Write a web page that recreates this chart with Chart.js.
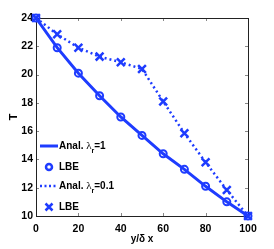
<!DOCTYPE html>
<html>
<head>
<meta charset="utf-8">
<script src="https://cdn.jsdelivr.net/npm/chart.js@4.4.0/dist/chart.umd.min.js"></script>
<style>
  html, body { margin: 0; padding: 0; background: #fff; }
  #wrap { width: 274px; height: 249px; }
</style>
</head>
<body>
<div id="wrap"><canvas id="cv"></canvas></div>
<script>
let xs = [0, 10, 20, 30, 40, 50, 60, 70, 80, 90, 100];
let analL1 = [24, 21.9, 20.1, 18.5, 17.0, 15.7, 14.4, 13.3, 12.1, 11.0, 10];
let lbeL1 = [24, 21.9, 20.1, 18.5, 17.0, 15.7, 14.4, 13.3, 12.1, 11.0, 10];
let analL01 = [24, 22.85, 21.9, 21.27, 20.87, 20.4, 18.1, 15.85, 13.8, 11.84, 10];
let lbeL01 = [24, 22.85, 21.9, 21.27, 20.87, 20.4, 18.1, 15.85, 13.8, 11.84, 10];
let xTicks = [0, 20, 40, 60, 80, 100];
let yTicks = [10, 12, 14, 16, 18, 20, 22, 24];

let azul = 'rgb(30, 60, 255)';
let fonte = 'Liberation Sans, Arial, sans-serif';

function pares(vals){
    return xs.map(function(x, i){ return {x: x, y: vals[i]}; });
}

// box + ticks para dentro, estilo matlab
let caixa = {
    id: 'caixa',
    beforeDatasetsDraw: function(chart){
        let c = chart.ctx;
        let a = chart.chartArea;
        let sx = chart.scales.x, sy = chart.scales.y;
        c.save();
        c.strokeStyle = '#888';
        c.lineWidth = 1;
        xTicks.forEach(function(t){
            let px = Math.round(sx.getPixelForValue(t)) + 0.5;
            c.beginPath();
            c.moveTo(px, a.bottom); c.lineTo(px, a.bottom - 3);
            c.moveTo(px, a.top); c.lineTo(px, a.top + 3);
            c.stroke();
        });
        yTicks.forEach(function(t){
            let py = Math.round(sy.getPixelForValue(t)) + 0.5;
            c.beginPath();
            c.moveTo(a.left, py); c.lineTo(a.left + 3, py);
            c.moveTo(a.right, py); c.lineTo(a.right - 3, py);
            c.stroke();
        });
        c.strokeStyle = '#222';
        c.strokeRect(Math.round(a.left) + 0.5, Math.round(a.top) + 0.5,
                     Math.round(a.right - a.left), Math.round(a.bottom - a.top));
        c.restore();
    },
    afterDraw: function(chart){
        let c = chart.ctx;
        c.save();
        // legenda
        let lx = 40, tx = 59;
        let linhas = [146, 167, 186, 207];
        c.strokeStyle = azul;
        c.fillStyle = azul;
        c.lineWidth = 3;
        c.beginPath(); c.moveTo(lx, linhas[0]); c.lineTo(58, linhas[0]); c.stroke();
        c.lineWidth = 2.5;
        c.beginPath(); c.arc(49, linhas[1], 3, 0, Math.PI * 2); c.stroke();
        c.setLineDash([2, 2.5]);
        c.beginPath(); c.moveTo(lx, linhas[2]); c.lineTo(58, linhas[2]); c.stroke();
        c.setLineDash([]);
        c.lineWidth = 2.5;
        c.beginPath();
        c.moveTo(45.5, linhas[3] - 3.5); c.lineTo(52.5, linhas[3] + 3.5);
        c.moveTo(52.5, linhas[3] - 3.5); c.lineTo(45.5, linhas[3] + 3.5);
        c.stroke();

        c.fillStyle = '#000';
        c.textBaseline = 'middle';
        c.textAlign = 'left';
        function anal(y, resto){
            let x = tx;
            c.font = 'bold 10px ' + fonte;
            c.fillText('Anal. ', x, y); x += c.measureText('Anal. ').width;
            c.font = '11px Liberation Serif, serif';
            c.fillText('λ', x, y); x += c.measureText('λ').width;
            c.font = 'bold 7px ' + fonte;
            c.fillText('r', x, y + 5); x += c.measureText('r').width;
            c.font = 'bold 10px ' + fonte;
            c.fillText(resto, x, y);
        }
        anal(linhas[0], '=1');
        c.font = 'bold 10px ' + fonte;
        c.fillText('LBE', tx, linhas[1]);
        anal(linhas[2], '=0.1');
        c.font = 'bold 10px ' + fonte;
        c.fillText('LBE', tx, linhas[3]);
        c.restore();
    }
};

let ctx1 = document.getElementById('cv').getContext('2d');

let myChart = new Chart(ctx1, {
    type: 'line',
    data: {
        datasets: [{
            label: 'Anal. λr=1',
            data: pares(analL1),
            borderColor: azul,
            borderWidth: 3,
            pointRadius: 0,
            tension: 0,
            clip: false
        }, {
            label: 'LBE',
            data: pares(lbeL1),
            showLine: false,
            borderColor: azul,
            backgroundColor: 'rgba(0,0,0,0)',
            pointStyle: 'circle',
            pointRadius: 3.5,
            pointBorderWidth: 2,
            clip: false
        }, {
            label: 'Anal. λr=0.1',
            data: pares(analL01),
            borderColor: azul,
            borderWidth: 2.5,
            borderDash: [2, 3],
            pointRadius: 0,
            tension: 0,
            clip: false
        }, {
            label: 'LBE',
            data: pares(lbeL01),
            showLine: false,
            borderColor: azul,
            pointStyle: 'crossRot',
            pointRadius: 5.5,
            pointBorderWidth: 2.5,
            clip: false
        }]
    },
    options: {
        responsive: true,
        maintainAspectRatio: false,
        animation: false,
        layout: { padding: { top: 18, right: 26, left: 0, bottom: 0 } },
        plugins: { legend: { display: false }, tooltip: { enabled: false } },
        scales: {
            x: {
                type: 'linear',
                min: 0, max: 100,
                afterBuildTicks: function(s){ s.ticks = xTicks.map(function(v){ return {value: v}; }); },
                afterFit: function(s){ s.height = 33; },
                grid: { display: false, drawTicks: false },
                border: { display: false },
                ticks: { color: '#000', padding: 7, maxRotation: 0, font: { family: fonte, size: 10.5, weight: 'bold' } },
                title: { display: true, text: 'y/δ x', color: '#000', padding: { top: 0 }, font: { family: fonte, size: 10, weight: 'bold' } }
            },
            y: {
                min: 10, max: 24,
                afterBuildTicks: function(s){ s.ticks = yTicks.map(function(v){ return {value: v}; }); },
                afterFit: function(s){ s.width = 36; },
                grid: { display: false, drawTicks: false },
                border: { display: false },
                ticks: { color: '#000', padding: 3, font: { family: fonte, size: 10.5, weight: 'bold' } },
                title: { display: true, text: 'T', color: '#000', padding: { top: 7, bottom: 0 }, font: { family: fonte, size: 11, weight: 'bold' } }
            }
        }
    },
    plugins: [caixa]
});
</script>
</body>
</html>
